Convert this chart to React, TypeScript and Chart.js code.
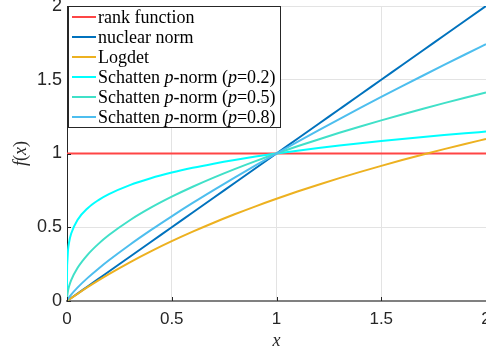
import React, { useEffect, useRef } from "react";
import { Chart, registerables } from "chart.js";

Chart.register(...registerables);

const X_VALUES = [0, 0.0001, 0.001, 0.005, 0.01, 0.02, 0.05, 0.1, 0.15, 0.2, 0.3, 0.4, 0.5, 0.6, 0.7, 0.8, 0.9, 1.0, 1.1, 1.2, 1.3, 1.4, 1.5, 1.6, 1.7, 1.8, 1.9, 2.0];
const RANK_FN = [1, 1, 1, 1, 1, 1, 1, 1, 1, 1, 1, 1, 1, 1, 1, 1, 1, 1, 1, 1, 1, 1, 1, 1, 1, 1, 1, 1];
const NUCLEAR = [0, 0.0001, 0.001, 0.005, 0.01, 0.02, 0.05, 0.1, 0.15, 0.2, 0.3, 0.4, 0.5, 0.6, 0.7, 0.8, 0.9, 1.0, 1.1, 1.2, 1.3, 1.4, 1.5, 1.6, 1.7, 1.8, 1.9, 2.0];
const LOGDET = [0, 0.0001, 0.001, 0.005, 0.00995, 0.0198, 0.0488, 0.0953, 0.1398, 0.1823, 0.2624, 0.3365, 0.4055, 0.47, 0.5306, 0.5878, 0.6419, 0.6931, 0.7419, 0.7885, 0.8329, 0.8755, 0.9163, 0.9555, 0.9933, 1.0296, 1.0647, 1.0986];
const SCHATTEN_02 = [0, 0.1585, 0.2512, 0.3466, 0.3981, 0.4573, 0.5493, 0.631, 0.6843, 0.7248, 0.786, 0.8325, 0.8706, 0.9029, 0.9311, 0.9564, 0.9791, 1, 1.0192, 1.0371, 1.0539, 1.0696, 1.0845, 1.0986, 1.112, 1.1248, 1.137, 1.1487];
const SCHATTEN_05 = [0, 0.01, 0.0316, 0.0707, 0.1, 0.1414, 0.2236, 0.3162, 0.3873, 0.4472, 0.5477, 0.6325, 0.7071, 0.7746, 0.8367, 0.8944, 0.9487, 1, 1.0488, 1.0954, 1.1402, 1.1832, 1.2247, 1.2649, 1.3038, 1.3416, 1.3784, 1.4142];
const SCHATTEN_08 = [0, 0.00063, 0.00398, 0.01443, 0.0251, 0.0437, 0.091, 0.1585, 0.2192, 0.2759, 0.3817, 0.4805, 0.5743, 0.6646, 0.7517, 0.8365, 0.9192, 1, 1.0792, 1.157, 1.2336, 1.3089, 1.3832, 1.4565, 1.5288, 1.6003, 1.6711, 1.7411];

const SERIES_LABELS = [
  "rank function",
  "nuclear norm",
  "Logdet",
  "Schatten $p$-norm ($p$=0.2)",
  "Schatten $p$-norm ($p$=0.5)",
  "Schatten $p$-norm ($p$=0.8)",
];
const SERIES_VALUES = [RANK_FN, NUCLEAR, LOGDET, SCHATTEN_02, SCHATTEN_05, SCHATTEN_08];
const SERIES_COLORS = ["#ff4545", "#0072bd", "#edb120", "#00ffff", "#40e0c8", "#4dbeee"];

const X_TICKS = [0, 0.5, 1, 1.5, 2];
const Y_TICKS = [0, 0.5, 1, 1.5, 2];
const X_TITLE = "$x$";
const Y_TITLE = "$f$($x$)";

const SERIF = '"Liberation Serif", "DejaVu Serif", serif';
const SANS = '"Liberation Sans", Arial, sans-serif';

function richWidth(ctx: CanvasRenderingContext2D, text: string, size: number) {
  let w = 0;
  text.split("$").forEach((p, i) => {
    ctx.font = `${i % 2 ? "italic " : ""}${size}px ${SERIF}`;
    w += ctx.measureText(p).width;
  });
  return w;
}

function drawRich(ctx: CanvasRenderingContext2D, text: string, x: number, y: number, size: number) {
  let cx = x;
  text.split("$").forEach((p, i) => {
    ctx.font = `${i % 2 ? "italic " : ""}${size}px ${SERIF}`;
    ctx.fillText(p, cx, y);
    cx += ctx.measureText(p).width;
  });
}

const overlayPlugin = {
  id: "overlay",
  afterDraw(chart: any) {
    const { ctx, chartArea: a, scales } = chart;
    ctx.save();
    // inward tick marks
    ctx.strokeStyle = "#262626";
    ctx.lineWidth = 1;
    X_TICKS.forEach((t) => {
      const px = Math.round(scales.x.getPixelForValue(t)) + 0.5;
      ctx.beginPath();
      ctx.moveTo(px, a.bottom);
      ctx.lineTo(px, a.bottom - 4);
      ctx.stroke();
    });
    Y_TICKS.forEach((t) => {
      const py = Math.round(scales.y.getPixelForValue(t)) + 0.5;
      ctx.beginPath();
      ctx.moveTo(a.left, py);
      ctx.lineTo(a.left + 4, py);
      ctx.stroke();
    });

    // legend
    const lx = 68.5, ly = 6.5, lw = 212, lh = 121;
    ctx.fillStyle = "#ffffff";
    ctx.fillRect(lx, ly, lw, lh);
    ctx.strokeStyle = "#262626";
    ctx.lineWidth = 1;
    ctx.strokeRect(lx, ly, lw, lh);
    ctx.textBaseline = "middle";
    ctx.textAlign = "left";
    chart.data.datasets.forEach((ds: any, i: number) => {
      const y = 17 + 20 * i;
      ctx.strokeStyle = ds.borderColor;
      ctx.lineWidth = 2;
      ctx.beginPath();
      ctx.moveTo(72, y);
      ctx.lineTo(96, y);
      ctx.stroke();
      ctx.fillStyle = "#000000";
      drawRich(ctx, ds.label, 98, y + 1, 18);
    });

    // axis titles
    ctx.fillStyle = "#262626";
    ctx.textBaseline = "middle";
    const xs = 18;
    const xw = richWidth(ctx, X_TITLE, xs);
    drawRich(ctx, X_TITLE, (a.left + a.right) / 2 - xw / 2, 341, xs);
    const yw = richWidth(ctx, Y_TITLE, xs);
    ctx.translate(21, (a.top + a.bottom) / 2);
    ctx.rotate(-Math.PI / 2);
    drawRich(ctx, Y_TITLE, -yw / 2, 0, xs);
    ctx.restore();
  },
};

export default function App() {
  const ref = useRef<HTMLCanvasElement | null>(null);
  useEffect(() => {
    if (!ref.current) return;
    const chart = new Chart(ref.current, {
      type: "line",
      data: {
        datasets: SERIES_VALUES.map((vals, i) => ({
          label: SERIES_LABELS[i],
          data: vals.map((v, j) => ({ x: X_VALUES[j], y: v })),
          borderColor: SERIES_COLORS[i],
          backgroundColor: SERIES_COLORS[i],
          borderWidth: 2,
          pointRadius: 0,
          cubicInterpolationMode: "monotone" as const,
          order: SERIES_VALUES.length - i,
        })),
      },
      options: {
        animation: false,
        responsive: false,
        maintainAspectRatio: false,
        layout: { padding: { top: 6, right: 14, left: 0, bottom: 0 } },
        plugins: { legend: { display: false }, tooltip: { enabled: false } },
        scales: {
          x: {
            type: "linear",
            min: 0,
            max: 2,
            afterFit: (s: any) => {
              s.height = 53;
              s.paddingLeft = 0;
              s.paddingRight = 0;
            },
            afterBuildTicks: (s: any) => { s.ticks = X_TICKS.map((v) => ({ value: v })); },
            ticks: {
              padding: 8,
              color: "#262626",
              font: { family: SANS, size: 17 },
              maxRotation: 0,
              callback: (v: any) => String(v),
            },
            grid: { color: "#e3e3e3", drawTicks: false, lineWidth: 1 },
            border: { display: true, color: "#808080", width: 2 },
          },
          y: {
            type: "linear",
            min: 0,
            max: 2,
            afterFit: (s: any) => {
              s.width = 67;
              s.paddingTop = 0;
              s.paddingBottom = 0;
            },
            afterBuildTicks: (s: any) => { s.ticks = Y_TICKS.map((v) => ({ value: v })); },
            ticks: {
              padding: 5,
              color: "#262626",
              font: { family: SANS, size: 18 },
              callback: (v: any) => String(v),
            },
            grid: { color: "#e3e3e3", drawTicks: false, lineWidth: 1 },
            border: { display: true, color: "#262626", width: 1 },
          },
        },
      },
      plugins: [overlayPlugin],
    });
    return () => chart.destroy();
  }, []);
  return (
    <div style={{ position: "fixed", left: 0, top: 0, width: 486, height: 354, overflow: "hidden", background: "#fff" }}>
      <canvas ref={ref} width={500} height={354} style={{ width: 500, height: 354, display: "block" }} />
    </div>
  );
}
